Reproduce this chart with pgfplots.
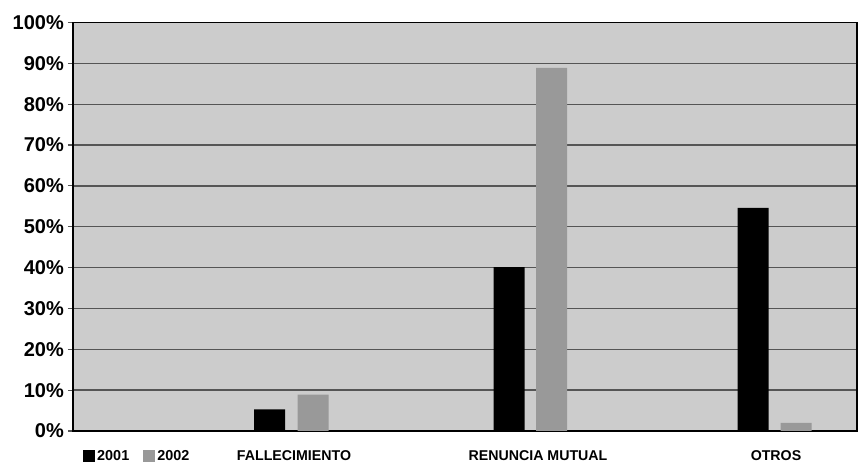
\documentclass[border=0pt]{standalone}
\usepackage{fontspec}
\setmainfont{Liberation Sans}
\usepackage{pgfplots}
\pgfplotsset{compat=1.18}
\definecolor{bg}{HTML}{CCCCCC}
\definecolor{grid}{HTML}{555555}
\definecolor{bar2}{HTML}{999999}
\begin{document}
\begin{tikzpicture}
\useasboundingbox (-73pt,-34pt) rectangle (787pt,431pt);
\begin{axis}[
  at={(0pt,0pt)}, anchor=south west,
  scale only axis, width=784pt, height=408.5pt,
  xmin=0, xmax=784, ymin=0, ymax=100,
  axis background/.style={fill=bg},
  axis line style={draw=black, line width=1.2pt},
  ytick={0,10,...,100},
  yticklabels={0\%,10\%,20\%,30\%,40\%,50\%,60\%,70\%,80\%,90\%,100\%},
  ytick pos=left, tick align=outside, major tick length=5pt,
  y tick style={draw=grid, line width=1.2pt},
  ymajorgrids, grid style={draw=grid, line width=1.3pt},
  yticklabel style={font=\bfseries\fontsize{20}{20}\selectfont, anchor=east, inner sep=0pt, xshift=-4pt},
  xtick={221,465,703},
  xticklabels={FALLECIMIENTO, RENUNCIA MUTUAL, OTROS},
  x tick style={draw=none},
  xticklabel style={font=\bfseries\fontsize{14.2}{15}\selectfont, anchor=center, inner sep=0pt, yshift=-20pt},
  legend style={at={(axis description cs:0.0128,0)}, anchor=west, yshift=-25pt, draw=none, fill=none,
    font=\bfseries\fontsize{14.4}{15}\selectfont, inner sep=0pt,
    /tikz/every even column/.append style={column sep=12pt}},
  legend columns=2,
  legend image code/.code={\path[#1,draw=none] (0pt,-6pt) rectangle (12pt,6pt);},
]
\addplot[ybar, bar width=31, bar shift=0pt, fill=black, draw=none] coordinates {(196.5,5.3) (436,40.1) (680,54.6)};
\addlegendentry{2001}
\addplot[ybar, bar width=31, bar shift=0pt, fill=bar2, draw=none] coordinates {(240,8.9) (478.5,88.9) (723,2.0)};
\addlegendentry{2002}
\end{axis}
\end{tikzpicture}
\end{document}
